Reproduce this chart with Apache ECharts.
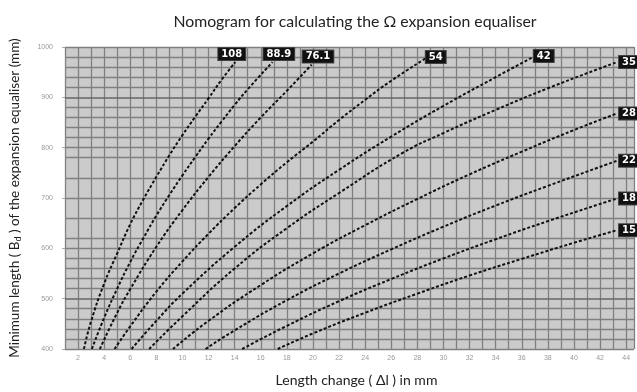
<!DOCTYPE html>
<html><head><meta charset="utf-8">
<script src="https://cdn.jsdelivr.net/npm/echarts@6/dist/echarts.min.js"></script>
<style>html,body{margin:0;padding:0;background:#fff}#c{width:637px;height:392px}</style>
</head><body><div id="c"></div>
<script>
// Curve labels (pipe outer diameter)
const curveNames = ['108', '88.9', '76.1', '54', '42', '35', '28', '22', '18', '15'];
// Curves: [length change Δl (mm), minimum length Bd (mm)]
const c108 = [[2.45,400],[3,455],[4,530],[5,590],[6,648],[7,697],[8,742],[9,785],[10,825],[11,862],[12,898],[13,935],[14.05,970]];
const c889 = [[3.06,400],[4,462],[5,520],[6,573],[7,620],[8,665],[9,706],[10,745],[11,782],[12,818],[13,852],[14,885],[15,916],[16.9,970]];
const c761 = [[3.67,400],[5,472],[6,519],[8,603],[10,676],[12,742],[14,803],[16,860],[18,913],[19.9,965]];
const c54  = [[4.8,400],[6,445],[8,514],[10,574],[12,629],[14,680],[16,727],[18,771],[20,812],[22,855],[24,895],[26,933],[28.8,980]];
const c42  = [[6.1,400],[8,456],[10,510],[14,603],[18,684],[22,756],[26,822],[30,883],[34,940],[37,982]];
const c35  = [[7.45,400],[10,465],[14,560],[18,640],[22,710],[26.9,790],[30,829],[34,875],[38,918],[43.3,970]];
const c28  = [[9.27,400],[12,456],[16,527],[20,590],[24,646],[28,698],[32,747],[36,792],[40,835],[43.3,868]];
const c22  = [[11.77,400],[14,437],[18,497],[22,550],[26,598],[30,643],[34,685],[38,724],[43.3,774]];
const c18  = [[14.58,400],[18,446],[22,495],[26,539],[30,580],[34,618],[38,654],[43.3,699]];
const c15  = [[17.3,400],[20,431],[24,472],[28,510],[32,546],[36,579],[40,611],[43.3,636]];
const curves = [c108, c889, c761, c54, c42, c35, c28, c22, c18, c15];
// Horizontal grid lines (Bd values)
const yGrid = [400,420,440,460,480,500,520,540,560,580,600,620,660,700,740,780,800,820,840,860,880,900,920,940,960,980,1000];
const yGridDark = [500, 900];
// Tick labels
const xTickLabels = [2,4,6,8,10,12,14,16,18,20,22,24,26,28,30,32,34,36,38,40,42,44];
const yTickLabels = [400,500,600,700,800,900,1000];

const labelOffsets = [[-25,-8],[-17,-8],[-17,-8],[-10,0],[-9,0],[-6,0],[-6,0],[-6,0],[-6,0],[-6,0]];

const chart = echarts.init(document.getElementById('c'));
const series = curves.map((d, i) => ({
  type: 'line', name: curveNames[i], data: d, smooth: true, showSymbol: false, symbol: 'none',
  lineStyle: { color: '#111', width: 2, type: [3, 2] },
  endLabel: {
    show: true, formatter: curveNames[i], color: '#fff', backgroundColor: '#111',
    fontFamily: 'DejaVu Sans', fontWeight: 'bold', fontSize: 10, padding: [1, 3],
    borderColor: '#444', borderWidth: 1, offset: labelOffsets[i]
  },
  z: 5
}));
series.push({
  type: 'line', data: [], silent: true,
  markLine: {
    silent: true, symbol: 'none', label: { show: false },
    data: yGrid.map(v => ({ yAxis: v, lineStyle: { color: yGridDark.includes(v) ? '#666' : '#808080', width: yGridDark.includes(v) ? 1.7 : 1.3, type: 'solid' } }))
  }, z: 1
});

chart.setOption({
  animation: false,
  title: {
    text: 'Nomogram for calculating the Ω expansion equaliser', left: 350, textAlign: 'center', top: 9,
    textStyle: { fontFamily: 'Lato', fontSize: 15.8, fontWeight: 'normal', color: '#222' }
  },
  grid: { left: 58, right: 3, top: 47, bottom: 42, show: true, backgroundColor: '#cbcbcb', borderWidth: 0 },
  xAxis: {
    type: 'value', min: 1, max: 44.6, interval: 1,
    name: 'Length change ( Δl ) in mm', nameLocation: 'middle', nameGap: 24,
    nameTextStyle: { fontFamily: 'Lato', fontSize: 14, color: '#222', padding: [0, 0, 0, 14] },
    axisLine: { show: false }, axisTick: { show: false },
    axisLabel: {
      showMaxLabel: false, fontSize: 7, color: '#999', margin: 6,
      formatter: v => xTickLabels.includes(v) ? String(v) : ''
    },
    splitLine: { show: true, lineStyle: { color: '#808080', width: 1.3 } }
  },
  yAxis: {
    type: 'value', min: 400, max: 1000, interval: 100,
    name: 'Minimum length ( B{s|d} ) of the expansion equaliser (mm)', nameLocation: 'middle', nameGap: 42, nameRotate: 90,
    nameTextStyle: { fontFamily: 'Lato', fontSize: 13.5, color: '#222', rich: { s: { fontSize: 9, verticalAlign: 'bottom', padding: [7, 0, 0, 0], fontFamily: 'Lato', color: '#222' } } },
    axisLine: { show: false }, axisTick: { show: true, length: 3, lineStyle: { color: '#aaa' } },
    axisLabel: { fontSize: 7, color: '#999', margin: 12, formatter: v => yTickLabels.includes(v) ? String(v) : '' },
    splitLine: { show: false }
  },
  series
});
</script></body></html>
